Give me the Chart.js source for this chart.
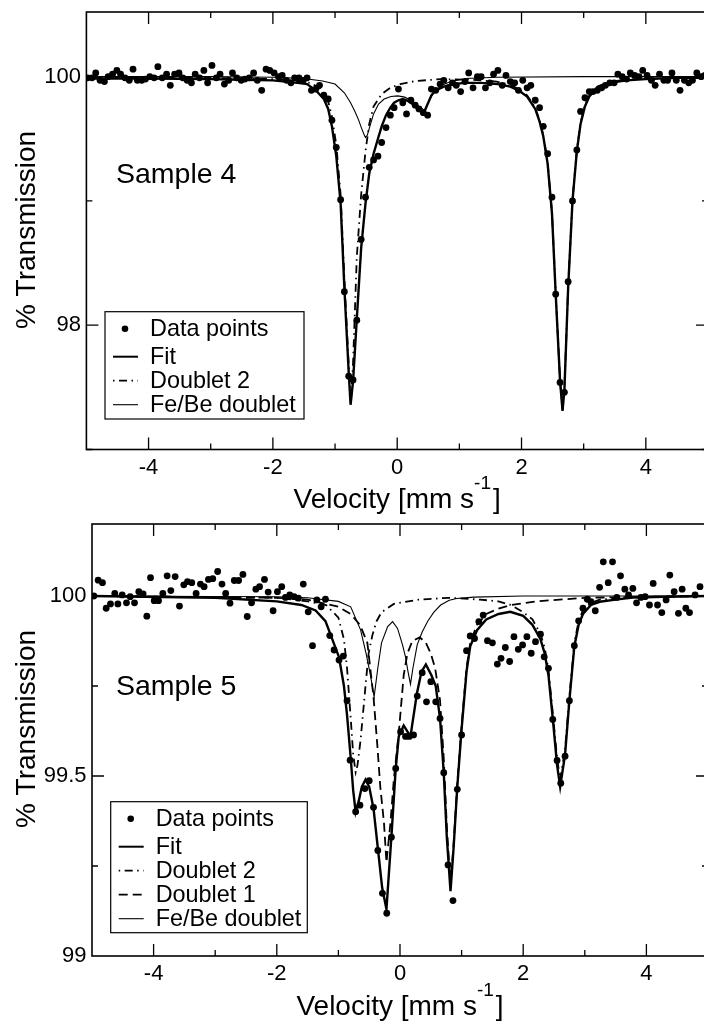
<!DOCTYPE html>
<html>
<head>
<meta charset="utf-8">
<script src="https://cdn.jsdelivr.net/npm/chart.js@4/dist/chart.umd.min.js"></script>
<style>
  html, body { margin: 0; padding: 0; background: #fff; overflow: hidden; width: 704px; height: 1023px; }
  canvas { position: absolute; left: 0; }
  #sample4 { top: 0; }
  #sample5 { top: 520px; }
</style>
</head>
<body>
<canvas id="sample4" width="712" height="520"></canvas>
<canvas id="sample5" width="712" height="503"></canvas>
<script>
// tick positions (velocity in mm/s, transmission in %)
var xLabelTicks = [-4, -2, 0, 2, 4];
var xMinorTicks = [-3, -1, 1, 3];

// ---- Sample 4 : measured points ----
var vel4 = [-4.98,-4.91,-4.85,-4.78,-4.71,-4.65,-4.58,-4.51,-4.45,-4.38,
  -4.31,-4.25,-4.18,-4.11,-4.05,-3.98,-3.91,-3.85,-3.78,-3.71,
  -3.65,-3.58,-3.51,-3.45,-3.38,-3.31,-3.25,-3.18,-3.11,-3.05,
  -2.98,-2.91,-2.85,-2.78,-2.71,-2.65,-2.58,-2.51,-2.45,-2.38,
  -2.31,-2.25,-2.18,-2.11,-2.05,-1.98,-1.91,-1.85,-1.78,-1.71,
  -1.65,-1.58,-1.51,-1.45,-1.38,-1.31,-1.25,-1.18,-1.11,-1.05,
  -0.98,-0.91,-0.85,-0.78,-0.71,-0.65,-0.58,-0.51,-0.45,-0.38,
  -0.31,-0.25,-0.18,-0.11,-0.05,0.02,0.09,0.15,0.22,0.29,
  0.35,0.42,0.49,0.55,0.62,0.69,0.75,0.82,0.89,0.95,
  1.02,1.09,1.15,1.22,1.29,1.35,1.42,1.49,1.55,1.62,
  1.69,1.75,1.82,1.89,1.95,2.02,2.09,2.15,2.22,2.29,
  2.35,2.42,2.49,2.55,2.62,2.69,2.75,2.82,2.89,2.95,
  3.02,3.09,3.15,3.22,3.29,3.35,3.42,3.49,3.55,3.62,
  3.69,3.75,3.82,3.89,3.95,4.02,4.09,4.15,4.22,4.29,
  4.35,4.42,4.49,4.55,4.62,4.69,4.75,4.82,4.89,4.95];
var trans4 = [99.99,99.99,100.03,99.97,99.96,100.00,100.02,100.05,100.02,99.99,
  99.97,100.06,99.97,99.97,99.98,100.00,99.99,100.08,99.99,100.02,
  99.93,100.02,100.03,99.99,99.97,99.95,100.02,99.99,100.05,99.95,
  100.09,99.99,100.02,99.94,99.97,100.03,99.99,99.97,99.98,99.99,
  100.03,99.97,99.89,100.06,100.05,100.03,100.00,100.01,99.97,99.95,
  99.99,99.99,99.97,99.99,99.89,99.90,99.93,99.85,99.82,99.65,
  99.43,99.01,98.27,97.59,97.56,98.04,98.69,99.03,99.27,99.33,
  99.36,99.47,99.59,99.69,99.75,99.90,99.79,99.70,99.81,99.77,
  99.74,99.71,99.69,99.90,99.89,99.94,99.97,99.91,99.95,99.93,
  99.88,99.96,100.03,99.91,100.00,100.00,99.91,99.95,100.02,100.05,
  99.93,100.01,99.96,99.95,99.89,99.97,99.91,99.93,99.81,99.75,
  99.60,99.38,99.03,98.25,97.54,97.46,98.35,99.00,99.41,99.72,
  99.83,99.88,99.88,99.89,99.91,99.93,99.95,99.95,100.02,100.00,
  99.98,100.03,100.01,100.00,100.05,100.01,99.97,99.93,100.02,99.97,
  99.97,100.03,99.97,99.89,99.97,99.95,99.97,100.03,100.00,100.01];

// ---- Sample 4 : fitted curves ----
var fit4V = [-5,-4,-3,-2.5,-2,-1.8,-1.6,-1.45,-1.31,-1.18,-1.11,-1.05,-0.98,-0.91,-0.85,-0.78,-0.75,-0.71,-0.65,-0.58,
  -0.51,-0.45,-0.38,-0.31,-0.25,-0.18,-0.11,-0.05,0.02,0.09,0.15,0.22,0.29,0.35,0.42,0.49,0.55,0.62,0.75,0.89,
  1.09,1.35,1.62,1.82,1.95,2.09,2.22,2.29,2.35,2.42,2.49,2.55,2.62,2.66,2.69,2.75,2.82,2.89,2.95,3.02,
  3.09,3.22,3.42,3.69,4.0,4.5,5];
var fit4T = [99.985,99.985,99.98,99.975,99.97,99.96,99.95,99.94,99.89,99.82,99.74,99.60,99.36,98.98,98.30,97.62,97.36,97.55,98.05,98.62,
  98.98,99.22,99.38,99.50,99.60,99.69,99.75,99.79,99.81,99.82,99.81,99.79,99.76,99.73,99.70,99.78,99.85,99.89,99.92,99.94,
  99.95,99.95,99.94,99.92,99.89,99.84,99.74,99.64,99.52,99.30,98.90,98.25,97.55,97.31,97.48,98.30,99.00,99.40,99.62,99.76,
  99.84,99.91,99.95,99.97,99.98,99.99,99.99];
var dbl2_4V = [-5,-3,-2,-1.6,-1.4,-1.25,-1.11,-1.05,-0.98,-0.91,-0.85,-0.78,-0.74,-0.71,-0.65,-0.58,-0.51,-0.45,-0.38,-0.25,
  -0.11,0.05,0.3,0.7,1.2,1.6,1.82,1.95,2.09,2.22,2.29,2.35,2.42,2.49,2.55,2.62,2.66,2.69,2.75,2.82,
  2.89,2.95,3.02,3.09,3.22,3.42,3.69,4.0,5];
var dbl2_4T = [99.995,99.99,99.98,99.965,99.95,99.91,99.80,99.68,99.45,99.05,98.38,97.68,97.42,97.70,98.55,99.05,99.40,99.62,99.76,99.86,
  99.91,99.94,99.965,99.98,99.975,99.96,99.935,99.90,99.85,99.75,99.65,99.53,99.31,98.91,98.26,97.56,97.32,97.49,98.31,99.01,
  99.41,99.63,99.77,99.85,99.92,99.96,99.975,99.985,99.99];
var febe4V = [-5,-3,-2,-1.5,-1.2,-1.0,-0.85,-0.75,-0.68,-0.62,-0.57,-0.53,-0.51,-0.48,-0.44,-0.38,-0.3,-0.21,-0.1,0.01,
  0.12,0.22,0.3,0.36,0.42,0.45,0.49,0.55,0.62,0.72,0.86,1.1,1.6,3,5];
var febe4T = [100,100,99.995,99.985,99.965,99.94,99.87,99.79,99.72,99.65,99.58,99.53,99.51,99.53,99.60,99.70,99.78,99.82,99.84,99.845,
  99.835,99.81,99.78,99.755,99.735,99.73,99.78,99.84,99.89,99.93,99.96,99.985,99.995,100,100];

// ---- Sample 5 : measured points ----
var vel5 = [-4.97,-4.90,-4.83,-4.77,-4.70,-4.63,-4.58,-4.51,-4.44,-4.38,
  -4.31,-4.24,-4.17,-4.11,-4.05,-3.99,-3.92,-3.85,-3.78,-3.72,
  -3.65,-3.58,-3.51,-3.45,-3.38,-3.31,-3.24,-3.18,-3.11,-3.04,
  -2.96,-2.89,-2.83,-2.76,-2.69,-2.62,-2.55,-2.48,-2.41,-2.34,
  -2.28,-2.20,-2.14,-2.06,-1.99,-1.92,-1.86,-1.79,-1.72,-1.65,
  -1.57,-1.49,-1.42,-1.35,-1.28,-1.21,-1.14,-1.07,-0.99,-0.92,-0.86,
  -0.81,-0.72,-0.65,-0.57,-0.50,-0.43,-0.36,-0.285,-0.215,-0.14,-0.07,
  0.01,0.09,0.15,0.22,0.28,0.36,0.43,0.50,0.58,0.65,
  0.71,0.78,0.86,0.93,1.00,1.08,1.14,1.21,1.28,1.35,
  1.42,1.50,1.58,1.64,1.71,1.78,1.85,1.92,1.99,2.06,
  2.13,2.20,2.28,2.34,2.41,2.48,2.55,2.61,2.68,2.75,
  2.83,2.90,2.97,3.04,3.10,3.17,3.24,3.30,3.38,3.45,
  3.52,3.58,3.65,3.71,3.78,3.84,3.91,3.98,4.05,4.11,
  4.18,4.25,4.32,4.38,4.45,4.52,4.58,4.64,4.70,4.79,4.87];
var trans5 = [100.00,100.044,100.037,99.966,99.978,100.007,99.978,100.003,99.981,99.998,
  99.981,100.012,100.006,99.944,100.051,99.987,99.987,100.007,100.056,100.015,
  100.054,99.972,100.031,100.040,100.037,100.007,100.033,100.026,100.046,100.048,
  100.068,100.033,100.007,99.980,100.043,100.043,100.060,99.943,99.981,100.019,
  100.026,100.046,100.011,99.959,100.012,100.026,99.996,100.003,99.998,99.994,
  100.033,99.956,99.862,99.989,99.970,99.991,99.890,99.850,99.822,99.833,99.709,
  99.544,99.401,99.419,99.465,99.487,99.413,99.293,99.174,99.119,99.330,99.521,
  99.623,99.610,99.610,99.614,99.722,99.787,99.706,99.762,99.706,99.660,
  99.509,99.253,99.154,99.463,99.614,99.848,99.889,99.882,99.929,99.947,
  99.876,99.870,99.811,99.827,99.857,99.818,99.887,99.852,99.864,99.887,
  99.841,99.873,99.894,99.831,99.799,99.657,99.543,99.480,99.555,99.709,
  99.862,99.931,99.966,99.991,99.984,99.959,100.024,100.095,100.037,100.095,
  99.996,100.056,100.019,100.003,100.021,99.981,99.996,99.998,99.975,100.035,
  99.975,99.954,99.989,100.058,100.012,99.952,100.019,99.966,99.954,100.003,100.026];

// ---- Sample 5 : fitted curves ----
var fit5V = [-5,-3,-2,-1.6,-1.37,-1.21,-1.10,-0.99,-0.91,-0.86,-0.80,-0.76,-0.72,-0.67,-0.62,-0.56,-0.50,-0.43,-0.36,-0.29,
  -0.22,-0.14,-0.07,-0.02,0.06,0.17,0.275,0.35,0.42,0.51,0.58,0.65,0.71,0.76,0.82,0.87,0.93,1.0,1.08,1.14,
  1.25,1.4,1.6,1.79,2.0,2.15,2.28,2.35,2.41,2.48,2.55,2.60,2.68,2.75,2.83,2.90,2.97,3.1,3.24,3.5,
  3.78,4.3,5];
var fit5T = [100.0,99.995,99.985,99.975,99.96,99.93,99.88,99.83,99.75,99.67,99.55,99.46,99.40,99.43,99.47,99.49,99.47,99.41,99.30,99.19,
  99.13,99.33,99.52,99.61,99.64,99.61,99.73,99.79,99.81,99.78,99.75,99.66,99.51,99.33,99.18,99.30,99.47,99.63,99.79,99.86,
  99.905,99.935,99.95,99.956,99.945,99.92,99.88,99.84,99.78,99.66,99.53,99.47,99.56,99.71,99.86,99.92,99.95,99.975,99.984,99.99,
  99.996,99.998,100.0];
var dbl2_5V = [-5,-2,-1.5,-1.2,-1.0,-0.91,-0.86,-0.80,-0.76,-0.72,-0.69,-0.64,-0.56,-0.51,-0.45,-0.38,-0.3,-0.1,0.3,0.8,
  1.3,1.6,1.8,2.0,2.15,2.28,2.35,2.41,2.48,2.55,2.60,2.68,2.75,2.83,2.90,2.97,3.1,3.24,3.8,5];
var dbl2_5T = [100,99.995,99.985,99.975,99.94,99.88,99.80,99.66,99.56,99.51,99.53,99.60,99.75,99.84,99.89,99.93,99.955,99.978,99.99,99.995,
  99.99,99.985,99.975,99.955,99.935,99.895,99.855,99.795,99.675,99.55,99.49,99.575,99.72,99.87,99.93,99.96,99.98,99.99,99.997,100];
var dbl1_5V = [-5,-2,-1.5,-1.0,-0.8,-0.65,-0.53,-0.43,-0.37,-0.32,-0.26,-0.22,-0.155,-0.10,-0.02,0.06,0.12,0.2,0.32,0.42,
  0.5,0.57,0.65,0.71,0.76,0.80,0.82,0.87,0.93,1.0,1.08,1.14,1.25,1.4,1.6,1.8,2.2,3,5];
var dbl1_5T = [100,99.995,99.99,99.97,99.95,99.92,99.87,99.72,99.59,99.47,99.37,99.26,99.37,99.49,99.62,99.78,99.84,99.875,99.885,99.87,
  99.84,99.80,99.71,99.55,99.36,99.25,99.20,99.31,99.48,99.64,99.80,99.87,99.92,99.95,99.965,99.975,99.985,99.995,100];
var febe5V = [-5,-2,-1.5,-1.0,-0.8,-0.64,-0.55,-0.48,-0.42,-0.36,-0.30,-0.2,-0.12,-0.04,0.04,0.09,0.13,0.17,0.21,0.28,
  0.36,0.45,0.55,0.66,0.8,0.92,1.2,2,5];
var febe5T = [100,99.998,99.995,99.985,99.97,99.906,99.84,99.78,99.72,99.80,99.87,99.915,99.929,99.91,99.865,99.83,99.79,99.755,99.80,99.865,
  99.90,99.93,99.955,99.975,99.988,99.993,99.997,100,100];

var FONT = '"Liberation Sans", Arial, sans-serif';
Chart.defaults.font.family = FONT;
Chart.defaults.color = '#000';

function pairs(xs, ys) {
  return xs.map(function (x, i) { return { x: x, y: ys[i] }; });
}

function points(xs, ys) {
  return { label: 'Data points', data: pairs(xs, ys), showLine: false, pointRadius: 3.4,
           pointBackgroundColor: '#000', pointBorderWidth: 0, borderColor: '#000' };
}
function curve(label, xs, ys, width, dash) {
  return { label: label, data: pairs(xs, ys), borderColor: '#000', borderWidth: width,
           borderDash: dash, pointRadius: 0, tension: 0, fill: false };
}

// the chart area is fixed by layout padding; drop the extra room scales ask for
function noScalePadding(s) {
  s.paddingTop = 0; s.paddingBottom = 0; s.paddingLeft = 0; s.paddingRight = 0;
}

// frame, inward ticks, titles, sample name and legend box
var decor = {
  id: 'decor',
  afterDraw: function (chart, args, o) {
    var ctx = chart.ctx, a = chart.chartArea;
    var xs = chart.scales.x, ys = chart.scales.y;
    ctx.save();
    ctx.strokeStyle = '#000';
    ctx.fillStyle = '#000';
    ctx.setLineDash([]);

    ctx.lineWidth = 1.3;
    ctx.beginPath();
    function xTick(v, len) {
      var px = xs.getPixelForValue(v);
      ctx.moveTo(px, a.bottom); ctx.lineTo(px, a.bottom - len);
      ctx.moveTo(px, a.top); ctx.lineTo(px, a.top + len);
    }
    function yTick(v, len) {
      var py = ys.getPixelForValue(v);
      ctx.moveTo(a.left, py); ctx.lineTo(a.left + len, py);
      ctx.moveTo(a.right, py); ctx.lineTo(a.right - len, py);
    }
    xLabelTicks.forEach(function (v) { xTick(v, 12); });
    xMinorTicks.forEach(function (v) { xTick(v, 6); });
    o.yMajor.forEach(function (v) { yTick(v, 12); });
    o.yMinor.forEach(function (v) { yTick(v, 6); });
    ctx.stroke();

    ctx.lineWidth = 1.6;
    ctx.strokeRect(a.left, a.top, a.right - a.left, a.bottom - a.top);

    // x title with superscript
    var cx = (a.left + a.right) / 2;
    ctx.textBaseline = 'alphabetic';
    ctx.textAlign = 'left';
    ctx.font = '28px ' + FONT;
    var t1 = 'Velocity [mm s', t3 = ']';
    var w1 = ctx.measureText(t1).width, w3 = ctx.measureText(t3).width;
    ctx.font = '19px ' + FONT;
    var w2 = ctx.measureText('-1').width;
    var x0 = cx - (w1 + w2 + 2 + w3) / 2;
    ctx.font = '28px ' + FONT;
    ctx.fillText(t1, x0, o.xTitleY);
    ctx.fillText(t3, x0 + w1 + w2 + 2, o.xTitleY);
    ctx.font = '19px ' + FONT;
    ctx.fillText('-1', x0 + w1, o.xTitleY - 19);

    // y title
    ctx.save();
    ctx.translate(o.yTitleX, o.yTitleY);
    ctx.rotate(-Math.PI / 2);
    ctx.textAlign = 'center';
    ctx.font = '28px ' + FONT;
    ctx.fillText('% Transmission', 0, 0);
    ctx.restore();

    // sample name
    ctx.font = '28.5px ' + FONT;
    ctx.fillText(o.sample, o.sampleX, o.sampleY);

    // legend
    var lg = o.legend;
    var rows = [17, 45, 69, 93, 117];
    ctx.fillStyle = '#fff';
    ctx.fillRect(lg.x, lg.y, lg.w, lg.h);
    ctx.fillStyle = '#000';
    ctx.lineWidth = 1.2;
    ctx.strokeRect(lg.x, lg.y, lg.w, lg.h);
    ctx.font = '23.4px ' + FONT;
    ctx.textBaseline = 'middle';
    chart.data.datasets.forEach(function (ds, i) {
      var cy = lg.y + rows[i];
      if (ds.showLine === false) {
        ctx.beginPath();
        ctx.arc(lg.x + 20, cy, 3.3, 0, Math.PI * 2);
        ctx.fill();
      } else {
        ctx.setLineDash(ds.borderDash || []);
        ctx.lineWidth = Math.min(ds.borderWidth, 2);
        ctx.beginPath();
        ctx.moveTo(lg.x + 8, cy);
        ctx.lineTo(lg.x + 33, cy);
        ctx.stroke();
        ctx.setLineDash([]);
      }
      ctx.fillText(ds.label, lg.x + 45, cy + 1);
    });
    ctx.restore();
  }
};

function makePanel(id, p) {
  return new Chart(document.getElementById(id), {
    type: 'line',
    data: { datasets: p.datasets },
    options: {
      responsive: false,
      animation: false,
      events: [],
      layout: { padding: p.padding },
      scales: {
        x: {
          type: 'linear', min: -5, max: 5,
          afterBuildTicks: function (s) { s.ticks = xLabelTicks.map(function (v) { return { value: v }; }); },
          afterFit: function (s) { s.height = p.xHeight; noScalePadding(s); },
          grid: { display: false, drawTicks: false },
          border: { display: false },
          ticks: { font: { size: 22 }, color: '#000', padding: 5, maxRotation: 0,
                   callback: function (v) { return String(v); } }
        },
        y: {
          type: 'linear', min: p.yMin, max: p.yMax,
          afterBuildTicks: function (s) { s.ticks = p.yLabels.map(function (v) { return { value: v }; }); },
          afterFit: function (s) { s.width = p.yWidth; noScalePadding(s); },
          grid: { display: false, drawTicks: false },
          border: { display: false },
          ticks: { font: { size: 22 }, color: '#000', padding: 5.5,
                   callback: function (v) { return String(v); } }
        }
      },
      plugins: { legend: { display: false }, tooltip: { enabled: false }, decor: p.decor }
    },
    plugins: [decor]
  });
}

makePanel('sample4', {
  datasets: [
    points(vel4, trans4),
    curve('Fit', fit4V, fit4T, 2.4, []),
    curve('Doublet 2', dbl2_4V, dbl2_4T, 1.8, [1.5, 4.5, 8, 4.5]),
    curve('Fe/Be doublet', febe4V, febe4T, 1.1, [])
  ],
  yMin: 97, yMax: 100.52, yLabels: [98, 100],
  padding: { top: 12, right: 1.3, left: 0, bottom: 0 },
  xHeight: 70.5, yWidth: 86.4,
  decor: { yMajor: [98, 100], yMinor: [97, 99], sample: 'Sample 4', sampleX: 116, sampleY: 183,
           yTitleX: 35, yTitleY: 230, xTitleY: 508,
           legend: { x: 105, y: 311.7, w: 199, h: 107.3 } }
});

makePanel('sample5', {
  datasets: [
    points(vel5, trans5),
    curve('Fit', fit5V, fit5T, 2.4, []),
    curve('Doublet 2', dbl2_5V, dbl2_5T, 1.8, [1.5, 4.5, 8, 4.5]),
    curve('Doublet 1', dbl1_5V, dbl1_5T, 1.8, [9, 5]),
    curve('Fe/Be doublet', febe5V, febe5T, 1.1, [])
  ],
  yMin: 99, yMax: 100.2, yLabels: [99, 99.5, 100],
  padding: { top: 2.7, right: 1.5, left: 0, bottom: 0 },
  xHeight: 67, yWidth: 92,
  decor: { yMajor: [99.5, 100], yMinor: [99.25, 99.75], sample: 'Sample 5', sampleX: 116, sampleY: 175,
           yTitleX: 35, yTitleY: 209, xTitleY: 495,
           legend: { x: 110.7, y: 281.7, w: 196.6, h: 131 } }
});
</script>
</body>
</html>
